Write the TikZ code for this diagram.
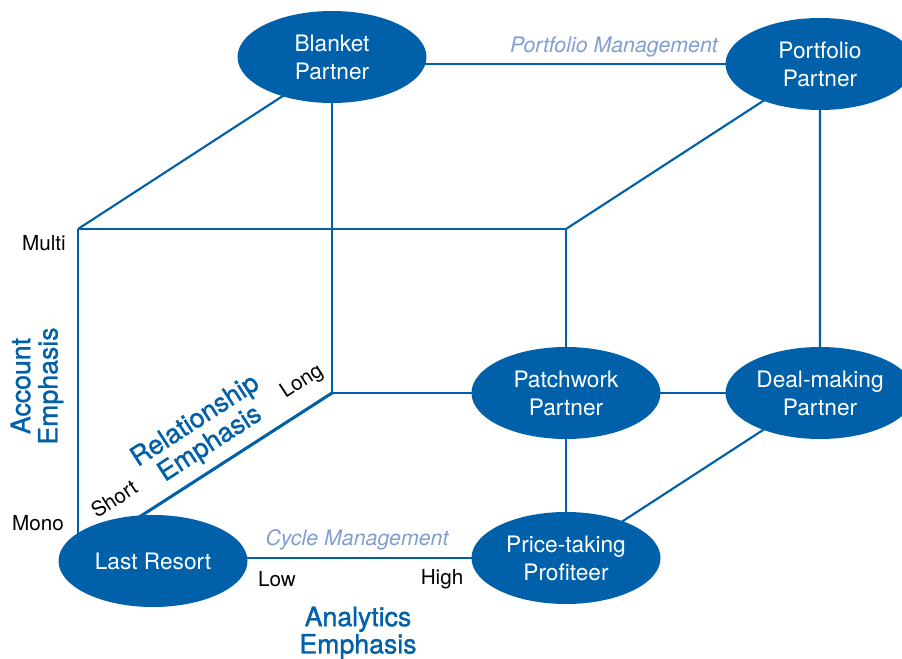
\documentclass[tikz,border=0pt]{standalone}
\usepackage{fontspec}
\setmainfont{TeX Gyre Heros}
\newfontfamily\medheros{TeX Gyre Heros}[FakeBold=1.2]
\usetikzlibrary{shapes.geometric,backgrounds}
\definecolor{cubeblue}{RGB}{0,97,170}
\definecolor{lightlab}{RGB}{128,158,212}
\begin{document}
\begin{tikzpicture}[x=0.75pt,y=-0.75pt,
  persona/.style={ellipse,fill=cubeblue,text=white,inner sep=0pt,
    minimum width=141.75pt,minimum height=69pt,align=center,
    font=\fontsize{17}{21}\selectfont},
  edge/.style={draw=cubeblue,line width=1.6pt},
  axisline/.style={draw=cubeblue,line width=2.3pt},
  tick/.style={text=black,inner sep=0pt,font=\fontsize{15.5}{18}\selectfont},
  mgmt/.style={text=lightlab,inner sep=0pt,font=\fontsize{16}{19}\selectfont\itshape},
  axislab/.style={text=cubeblue,inner sep=0pt,align=center,font=\medheros\fontsize{20}{20.5}\selectfont}]
\useasboundingbox (0,0) rectangle (902,659);

% personas
\node[persona] (blanket) at (332,57) {Blanket\\Partner};
\node[persona] (portfolio) at (820,64) {Portfolio\\Partner};
\node[persona] (patchwork) at (566,393) {Patchwork\\Partner};
\node[persona] (dealmaking) at (820,393) {Deal-making\\Partner};
\node[persona] (pricetaking) at (566,558) {Price-taking\\Profiteer};
\node[persona] (lastresort) at (153,561) {Last Resort};

% cube corners
\coordinate (ftl) at (78,229);
\coordinate (ftr) at (566,229);
\coordinate (bbl) at (332,393);
\coordinate (fbl) at (78,550);
\coordinate (diagend) at (130,523);

\begin{scope}[on background layer]
  \draw[edge] (blanket.center |- portfolio.center) -- (portfolio.center);
  \draw[edge] (ftl) -- (blanket.center |- portfolio.center);
  \draw[edge] (ftl) -- (ftr) -- (patchwork.center) -- (pricetaking.center);
  \draw[edge] (ftr) -- (portfolio.center);
  \draw[edge] (blanket.center) -- (bbl) -- (patchwork.center) -- (dealmaking.center);
  \draw[edge] (portfolio.center) -- (dealmaking.center) -- (pricetaking.center);
  \draw[edge] (lastresort.center |- pricetaking.center) -- (pricetaking.center);
  \draw[edge] (ftl) -- (fbl);
  \draw[axisline] (bbl) -- (diagend);
\end{scope}

% tick labels
\node[tick] (multi) at (44,243) {Multi};
\node[tick] (mono) at (38,523) {Mono};
\node[tick,rotate=33] (short) at (114,499) {Short};
\node[tick,rotate=33] (long) at (302,382) {Long};
\node[tick] (low) at (277,579) {Low};
\node[tick] (high) at (442,579) {High};

% management labels
\node[mgmt] (cyclemgmt) at (357,540) {Cycle Management};
\node[mgmt] (portmgmt) at (614,47) {Portfolio Management};

% axis labels
\node[axislab,rotate=90] (account) at (37,386) {Account\\Emphasis};
\node[axislab,rotate=33] (relationship) at (203,433) {Relationship\\Emphasis};
\node[axislab] (analytics) at (358,633) {Analytics\\Emphasis};
\end{tikzpicture}
\end{document}
